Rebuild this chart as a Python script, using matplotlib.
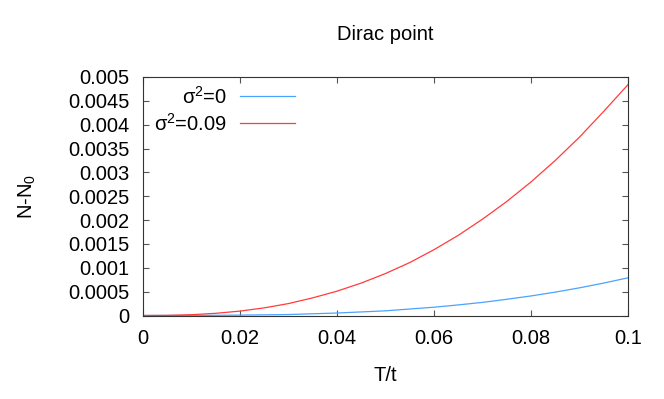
import matplotlib
matplotlib.use("Agg")
import matplotlib.pyplot as plt

# Data
T_blue = [0.0, 0.01, 0.02, 0.03, 0.04, 0.05, 0.06, 0.065, 0.07, 0.075, 0.08,
          0.085, 0.09, 0.095, 0.1]
N_blue = [0.0, 0.000001, 0.000008, 0.00002, 0.000052, 0.000098, 0.000174,
          0.000222, 0.000275, 0.00034, 0.00041, 0.00049, 0.00058, 0.00068, 0.00079]

T_red = [0.0, 0.005, 0.01, 0.015, 0.02, 0.025, 0.03, 0.035, 0.04, 0.045, 0.05,
         0.055, 0.06, 0.065, 0.07, 0.075, 0.08, 0.085, 0.09, 0.095, 0.1]
N_red = [0.0, 0.000003, 0.000017, 0.000046, 0.000092, 0.00016, 0.00025, 0.00037,
         0.00051, 0.00068, 0.00088, 0.00111, 0.00138, 0.00168, 0.00202, 0.00239,
         0.0028, 0.00325, 0.00374, 0.00428, 0.00484]

x_ticks = [0, 0.02, 0.04, 0.06, 0.08, 0.1]
x_ticklabels = ["0", "0.02", "0.04", "0.06", "0.08", "0.1"]
y_ticks = [0, 0.0005, 0.001, 0.0015, 0.002, 0.0025, 0.003, 0.0035, 0.004, 0.0045, 0.005]
y_ticklabels = ["0", "0.0005", "0.001", "0.0015", "0.002", "0.0025", "0.003",
                "0.0035", "0.004", "0.0045", "0.005"]

label_blue = r"$\sigma^2$=0"
label_red = r"$\sigma^2$=0.09"

plt.rcParams["font.family"] = ["Liberation Sans", "DejaVu Sans"]
plt.rcParams["mathtext.fontset"] = "custom"
plt.rcParams["mathtext.rm"] = "Liberation Sans"
plt.rcParams["mathtext.it"] = "Liberation Sans"
plt.rcParams["mathtext.default"] = "regular"

fs = 14.5
W, H = 664, 399
fig = plt.figure(figsize=(W / 100, H / 100), dpi=100)
ax = fig.add_axes([143 / W, 1 - 315.5 / H, (628 - 143) / W, (315.5 - 77) / H])

ax.plot(T_blue, N_blue, color="#4aa3ff", lw=0.9, label=label_blue)
ax.plot(T_red, N_red, color="#ff3c3c", lw=0.9, label=label_red)

ax.set_xlim(0, 0.1)
ax.set_ylim(0, 0.005)
ax.set_xticks(x_ticks)
ax.set_xticklabels(x_ticklabels)
ax.set_yticks(y_ticks)
ax.set_yticklabels(y_ticklabels)
ax.tick_params(direction="in", length=4.5, width=0.8, color="#555555",
               top=True, right=True, labelsize=fs, pad=9.5)
for s in ax.spines.values():
    s.set_color("#333333")
    s.set_linewidth(0.8)

ax.set_xlabel("T/t", fontsize=fs, labelpad=13)
ax.set_ylabel(r"N-N$_0$", fontsize=fs, labelpad=22)
ax.set_title("Dirac point", fontsize=fs, pad=27)

leg = ax.legend(loc="upper left", bbox_to_anchor=(0.0103, 0.9895), frameon=False,
                markerfirst=False, fontsize=fs, handlelength=2.75,
                handletextpad=0.65, labelspacing=0.25, borderaxespad=0.0,
                borderpad=0.3)
leg._legend_box.align = "right"

fig.savefig("out.png", dpi=100)
